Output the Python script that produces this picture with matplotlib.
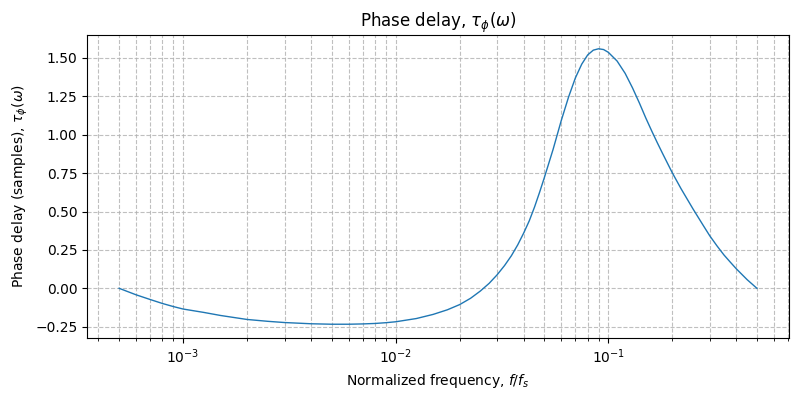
import numpy as np
import matplotlib
matplotlib.use("Agg")
import matplotlib.pyplot as plt

# Normalized frequency (f/fs) and phase delay in samples
freq = [5e-4, 6e-4, 7e-4, 8e-4, 9e-4, 1e-3, 1.25e-3, 1.5e-3, 1.75e-3, 2e-3,
        2.5e-3, 3e-3, 4e-3, 5e-3, 6e-3, 7e-3, 8e-3, 9e-3, 1e-2, 1.25e-2,
        1.5e-2, 1.75e-2, 2e-2, 2.25e-2, 2.5e-2, 2.75e-2, 3e-2, 3.25e-2, 3.5e-2, 3.75e-2,
        4e-2, 4.25e-2, 4.5e-2, 4.75e-2, 5e-2, 5.5e-2, 6e-2, 6.5e-2, 7e-2, 7.5e-2,
        8e-2, 8.5e-2, 9e-2, 9.5e-2, 0.1, 0.11, 0.12, 0.13, 0.14, 0.15,
        0.16, 0.17, 0.18, 0.2, 0.22, 0.25, 0.28, 0.3, 0.325, 0.35,
        0.375, 0.4, 0.45, 0.5]
delay = [0.0, -0.042, -0.073, -0.099, -0.119, -0.135, -0.157, -0.177, -0.191, -0.203,
         -0.215, -0.223, -0.231, -0.234, -0.234, -0.232, -0.229, -0.224, -0.218, -0.197,
         -0.170, -0.140, -0.106, -0.065, -0.018, 0.032, 0.088, 0.148, 0.212, 0.283,
         0.360, 0.440, 0.530, 0.625, 0.72, 0.905, 1.09, 1.245, 1.37, 1.46,
         1.52, 1.551, 1.560, 1.555, 1.537, 1.48, 1.40, 1.305, 1.207, 1.11,
         1.025, 0.948, 0.878, 0.752, 0.648, 0.518, 0.408, 0.342, 0.275, 0.217,
         0.170, 0.127, 0.056, 0.0]

fig, ax = plt.subplots(figsize=(8, 4), dpi=100)
ax.semilogx(freq, delay, color="tab:blue", linewidth=1)
ax.grid(True, which="both", linestyle="--", color="#b0b0b0", alpha=0.8)
ax.set_title(r"Phase delay, $\tau_\phi(\omega)$")
ax.set_xlabel(r"Normalized frequency, $f/f_s$")
ax.set_ylabel(r"Phase delay (samples), $\tau_\phi(\omega)$")
plt.subplots_adjust(left=0.109, right=0.986, top=0.9125, bottom=0.155)
plt.savefig("out.png")
